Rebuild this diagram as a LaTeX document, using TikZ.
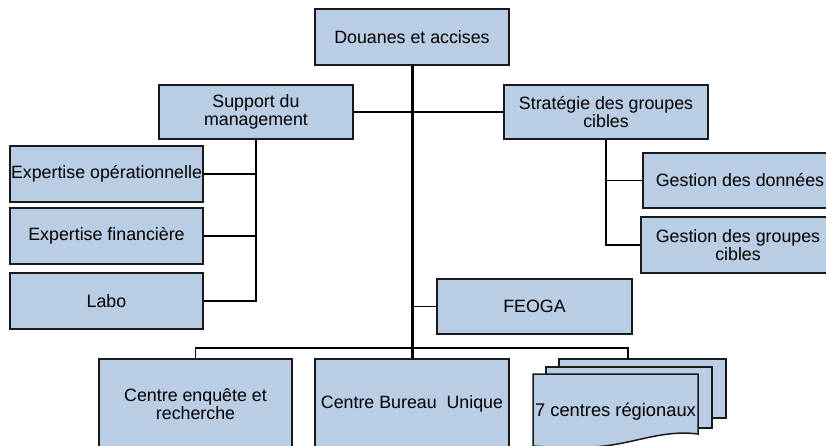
\documentclass[tikz,border=0pt]{standalone}
\usepackage{fontspec}
\setmainfont{Liberation Sans}
\definecolor{boxfill}{HTML}{B9CDE5}
\definecolor{edge}{HTML}{1A1A1A}
\begin{document}
\begin{tikzpicture}[x=1pt,y=-1pt,
  unit/.style={draw=edge,fill=boxfill,line width=1.5pt,inner sep=0pt,align=center,
    font=\fontsize{17.8}{17.5}\selectfont},
  link/.style={draw=black,line width=1.2pt},
  trunk/.style={draw=black,line width=3pt}]
\useasboundingbox (0,0) rectangle (826,445);

% organisation units
\node[unit,minimum width=194pt,minimum height=56pt] (top) at (412,37) {Douanes et accises};
\node[unit,minimum width=194pt,minimum height=54pt] (sup) at (256,112) {Support du\\management};
\node[unit,minimum width=204pt,minimum height=54pt] (strat) at (606,112) {Stratégie des groupes\\cibles};
\node[unit,minimum width=193pt,minimum height=56pt] (eo) at (106.5,174) {Expertise opérationnelle};
\node[unit,minimum width=193pt,minimum height=56pt] (ef) at (106.5,236) {Expertise financière};
\node[unit,minimum width=193pt,minimum height=56pt] (labo) at (106.5,301) {Labo};
\node[unit,minimum width=194pt,minimum height=55pt] (gd) at (740,180.5) {Gestion des données};
\node[unit,minimum width=194pt,minimum height=56pt] (gg) at (738,245) {Gestion des groupes\\cibles};
\node[unit,minimum width=195pt,minimum height=55pt] (feoga) at (534.5,306.5) {FEOGA};
\node[unit,minimum width=193pt,minimum height=90pt] (cer) at (195.5,404) {Centre enquête et\\recherche};
\node[unit,minimum width=194pt,minimum height=90pt] (cbu) at (412,404) {Centre Bureau~ Unique};

% stacked sheets of the regional centres
\path[draw=edge,fill=boxfill,line width=1.5pt] (559,359) rectangle (726,418);
\path[draw=edge,fill=boxfill,line width=1.5pt] (546,367) rectangle (712,428);
\path[draw=edge,fill=boxfill,line width=1.5pt]
  (533,450) -- (533,374) -- (698,374) -- (698,434)
  .. controls (660,429) and (630,446) .. (590,447)
  .. controls (565,448) and (545,447) .. (533,446);
\node[inner sep=0pt,font=\fontsize{18.3}{17.5}\selectfont] (reg) at (615.5,412) {7 centres régionaux};
\coordinate (regtop) at (628,359);

% connectors
\coordinate (hub) at (top.south |- sup.east);
\coordinate (busL) at (cer.north |- 0,348);
\coordinate (busR) at (regtop |- 0,348);
\draw[link] (sup.east) -- (hub) -- (strat.west);
\draw[link] (sup.south) -- (sup.south |- labo.east) -- (labo.east);
\draw[link] (sup.south |- eo.east) -- (eo.east);
\draw[link] (sup.south |- ef.east) -- (ef.east);
\draw[link] (strat.south) -- (strat.south |- gg.west) -- (gg.west);
\draw[link] (strat.south |- gd.west) -- (gd.west);
\draw[link] (top.south |- feoga.west) -- (feoga.west);
\draw[link] (cer.north) -- (busL) -- (busR) -- (regtop);
\draw[trunk] (top.south) -- (cbu.north);
\end{tikzpicture}
\end{document}
